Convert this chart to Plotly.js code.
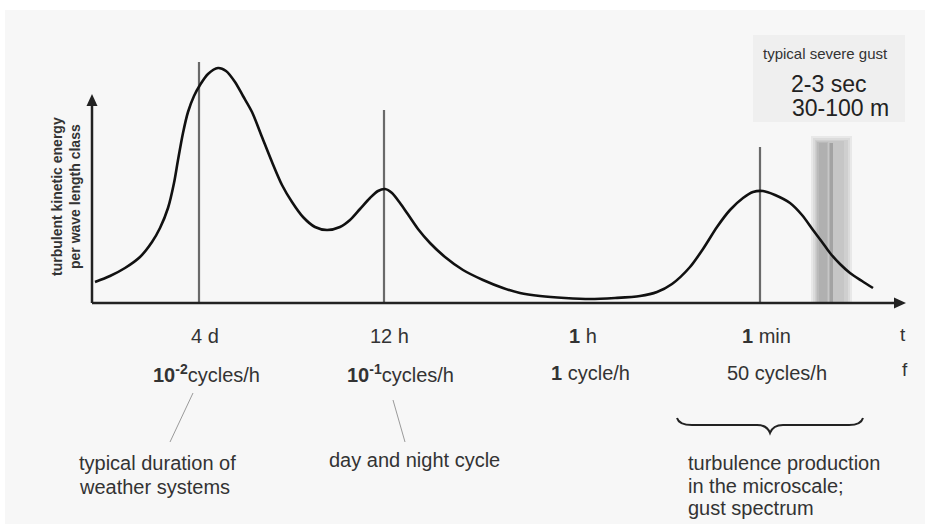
<!DOCTYPE html>
<html>
<head>
<meta charset="utf-8">
<script src="https://cdn.plot.ly/plotly-3.0.1.min.js"></script>
<style>html,body{margin:0;padding:0;background:#fff;}#chart{width:925px;height:524px;}</style>
</head>
<body>
<div id="chart"></div>
<script>
// ---- schematic spectrum (arbitrary units: x = position along time-scale axis, y = energy) ----
const curveX = [3,18,33,48,60,68,76,82,86,91,96,102,108,116,126,134,143,151,160,170,180,190,200,211,223,235,248,258,268,278,286,293,300,308,315,326,338,353,371,391,411,428,448,473,498,523,548,565,580,598,611,625,638,651,661,671,683,698,710,721,730,738,748,758,770,781];
const curveY = [21,27,35,46,61,75,95,120,143,170,191,207,218,229,235,232,221,207,191,166,141,118,101,86,76,73,76,83,94,105,112,114,110,100,90,74,60,46,33,23,15,10,7,5,4,5,7,11,19,36,54,76,93,105,111,112,108,100,88,73,61,50,39,30,22,15];

// reference markers (4 d, 12 h, 1 min)
const markerX = [107, 292, 668];
const markerTop = [241, 193, 156];

// label texts
const periodLabels = ['4 d', '12 h', '<b>1</b> h', '<b>1</b> min'];
const freqLabels = ['<b>10<sup>-2</sup></b>cycles/h', '<b>10<sup>-1</sup></b>cycles/h', '<b>1</b> cycle/h', '50 cycles/h'];
const periodLabelX = [205, 389, 583, 766];
const freqLabelX = [206, 400, 590, 777];

// ---- layout helpers (pixel -> paper) ----
const L = 92, T = 30, PW = 811, PH = 273;
const px = x => (x - L) / PW;
const py = y => (T + PH - y) / PH;
const FONT = 'Liberation Sans, Arial, sans-serif';
const TXT = '#333333';

// marker trace built from arrays
const mx = [], my = [];
markerX.forEach((x, i) => { mx.push(x, x, null); my.push(0, markerTop[i], null); });

const traces = [
  {x: mx, y: my, mode: 'lines', line: {color: '#6a6a6a', width: 2.2}, hoverinfo: 'skip', showlegend: false},
  {x: curveX, y: curveY, mode: 'lines', line: {color: '#111111', width: 2.6, shape: 'spline', smoothing: 0.8}, hoverinfo: 'skip', showlegend: false}
];

const pline = (x0, y0, x1, y1, color, width) => ({type: 'line', xref: 'paper', yref: 'paper', x0: px(x0), y0: py(y0), x1: px(x1), y1: py(y1), line: {color: color, width: width}});
const ppath = (pts, fill) => ({type: 'path', xref: 'paper', yref: 'paper', path: 'M ' + pts.map(p => px(p[0]) + ',' + py(p[1])).join(' L ') + ' Z', fillcolor: fill, line: {width: 0}});
const band = (x0, x1, top, fill) => ({type: 'rect', xref: 'x', yref: 'y', x0: x0, x1: x1, y0: 0, y1: top, fillcolor: fill, line: {width: 0}, layer: 'below'});

const shapes = [
  // page background
  {type: 'rect', xref: 'paper', yref: 'paper', x0: px(5), x1: px(925), y0: py(10), y1: py(524), fillcolor: '#f7f7f7', line: {width: 0}, layer: 'below'},
  // gust box
  {type: 'rect', xref: 'paper', yref: 'paper', x0: px(753), x1: px(905), y0: py(35), y1: py(122), fillcolor: '#efefef', line: {width: 0}, layer: 'below'},
  // gust band (layered for soft gradient)
  band(719, 760, 167, 'rgba(200,200,200,0.30)'),
  band(721, 758, 165, 'rgba(190,190,190,0.30)'),
  band(723, 756, 163, 'rgba(180,180,180,0.30)'),
  band(724, 752, 162, 'rgba(170,170,170,0.25)'),
  band(725, 736, 161, 'rgba(150,150,150,0.25)'),
  band(727, 735, 160, 'rgba(140,140,140,0.20)'),
  band(737.5, 741, 160, 'rgba(110,110,110,0.40)'),
  // axes with arrow heads
  pline(92, 303, 897, 303, '#222', 2.5),
  pline(92, 303, 92, 104, '#222', 2.5),
  ppath([[906, 303], [894, 297.5], [894, 308.5]], '#222'),
  ppath([[92, 94], [86.5, 106], [97.5, 106]], '#222'),
  // leader lines
  pline(193, 393, 170, 442, '#9a9a9a', 1),
  pline(393, 400, 405, 442, '#9a9a9a', 1),
  // brace
  {type: 'path', xref: 'paper', yref: 'paper', line: {color: '#222', width: 2},
   path: `M ${px(677)},${py(418)} Q ${px(679)},${py(425)} ${px(692)},${py(425)} L ${px(757)},${py(425)} Q ${px(767)},${py(425)} ${px(770)},${py(433)} Q ${px(773)},${py(425)} ${px(783)},${py(425)} L ${px(849)},${py(425)} Q ${px(861)},${py(425)} ${px(863)},${py(418)}`}
];

const ann = (x, y, text, size, opts) => Object.assign({xref: 'paper', yref: 'paper', x: px(x), y: py(y), text: text, showarrow: false, xanchor: 'center', yanchor: 'middle', font: {family: FONT, size: size, color: TXT}}, opts || {});

const annotations = [
  // y title
  ann(66, 197, '<b>turbulent kinetic energy<br>per wave length class</b>', 14, {textangle: -90}),
  // gust box
  ann(825, 53, 'typical severe gust', 15),
  ann(828, 84, '2-3 sec', 23, {font: {family: FONT, size: 23, color: '#222'}}),
  ann(840, 108, '30-100 m', 23, {font: {family: FONT, size: 23, color: '#222'}}),
  // t / f
  ann(903, 334, 't', 19),
  ann(905, 369, 'f', 19),
  // descriptive texts
  ann(77, 463, 'typical duration of', 20, {xanchor: 'left'}),
  ann(77, 487, 'weather systems', 20, {xanchor: 'left'}),
  ann(327, 460, 'day and night cycle', 20, {xanchor: 'left'}),
  ann(686, 463, 'turbulence production', 20, {xanchor: 'left'}),
  ann(686, 486, 'in the microscale;', 20, {xanchor: 'left'}),
  ann(686, 508, 'gust spectrum', 20, {xanchor: 'left'})
];
periodLabels.forEach((t, i) => annotations.push(ann(periodLabelX[i], 336, t, 20)));
freqLabels.forEach((t, i) => annotations.push(ann(freqLabelX[i], 373, t, 20)));

const hidden = {showgrid: false, zeroline: false, showline: false, showticklabels: false, ticks: '', fixedrange: true};
const layout = {
  width: 925, height: 524,
  margin: {l: L, r: 925 - L - PW, t: T, b: 524 - T - PH, pad: 0},
  paper_bgcolor: '#ffffff', plot_bgcolor: 'rgba(0,0,0,0)',
  xaxis: Object.assign({range: [0, PW]}, hidden),
  yaxis: Object.assign({range: [0, PH]}, hidden),
  shapes: shapes, annotations: annotations, showlegend: false
};
Plotly.newPlot('chart', traces, layout, {staticPlot: true, displayModeBar: false});
</script>
</body>
</html>
